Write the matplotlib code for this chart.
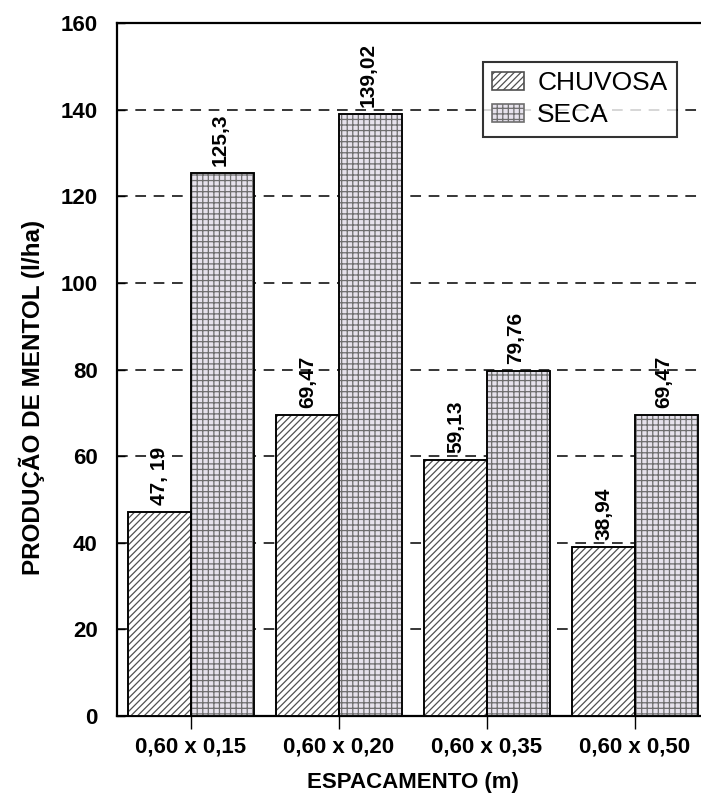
import matplotlib
matplotlib.use("Agg")
import matplotlib.pyplot as plt
import numpy as np

# Menthol yield per plant spacing, rainy vs dry season
espacamentos = ["0,60 x 0,15", "0,60 x 0,20", "0,60 x 0,35", "0,60 x 0,50"]
chuvosa = [47.19, 69.47, 59.13, 38.94]
seca = [125.3, 139.02, 79.76, 69.47]
rotulos_chuvosa = ["47, 19", "69,47", "59,13", "38,94"]
rotulos_seca = ["125,3", "139,02", "79,76", "69,47"]
yticks = [0, 20, 40, 60, 80, 100, 120, 140, 160]

plt.rcParams["font.family"] = ["Liberation Sans", "DejaVu Sans"]
plt.rcParams["hatch.linewidth"] = 0.9

fig = plt.figure(figsize=(7.01, 7.99), dpi=100)
ax = fig.add_axes([117 / 701, 1 - 716 / 799, 592 / 701, 693 / 799])

x = np.arange(len(espacamentos))
w = 0.425

b1 = ax.bar(x - w / 2, chuvosa, w, facecolor="white", edgecolor="#505050",
            hatch="/////", linewidth=1.2, label="CHUVOSA", zorder=3)
b2 = ax.bar(x + w / 2, seca, w, facecolor="#e6e2ec", edgecolor="#6e6e6e",
            hatch="+++", linewidth=1.2, label="SECA", zorder=3)
for bars in (b1, b2):
    for p in bars:
        ax.add_patch(plt.Rectangle(p.get_xy(), p.get_width(), p.get_height(),
                                   fill=False, edgecolor="black", linewidth=1.3, zorder=4))

for xi, v, t in zip(x - w / 2, chuvosa, rotulos_chuvosa):
    ax.annotate(t, (xi, v), xytext=(0, 5), textcoords="offset points",
                rotation=90, ha="center", va="bottom", fontsize=15, fontweight="bold")
for xi, v, t in zip(x + w / 2, seca, rotulos_seca):
    ax.annotate(t, (xi, v), xytext=(-2, 5), textcoords="offset points",
                rotation=90, ha="center", va="bottom", fontsize=15, fontweight="bold")

ax.set_xlim(-0.5, 3.5)
ax.set_ylim(0, 160)
ax.set_yticks(yticks)
ax.set_xticks(x)
ax.set_xticklabels(espacamentos, fontsize=16, fontweight="bold")
for lab in ax.get_yticklabels():
    lab.set_fontsize(16)
    lab.set_fontweight("bold")
ax.tick_params(axis="y", direction="in", length=6, width=1, pad=14)
ax.tick_params(axis="x", direction="out", length=9, width=1, pad=6)

ax.yaxis.grid(True, linestyle=(0, (7, 5)), color="black", linewidth=1.1, zorder=0)
ax.set_axisbelow(True)

for s in ax.spines.values():
    s.set_linewidth(1.6)
    s.set_color("black")

ax.set_ylabel("PRODUÇÃO DE MENTOL (l/ha)", fontsize=17.5, fontweight="bold", labelpad=10)
ax.yaxis.set_label_coords(-0.122, 1 - (397 - 23) / 693)
ax.set_xlabel("ESPACAMENTO (m)", fontsize=16, fontweight="bold", labelpad=10)

leg = ax.legend(loc="upper left", bbox_to_anchor=(353 / 592, 1 - 26 / 693),
                fontsize=19, frameon=True, fancybox=False, borderpad=0.35,
                handlelength=1.2, handleheight=0.7, handletextpad=0.5, labelspacing=0.3)
leg.get_frame().set_edgecolor("black")
leg.get_frame().set_linewidth(1.5)

fig.savefig("out.png", dpi=100)
